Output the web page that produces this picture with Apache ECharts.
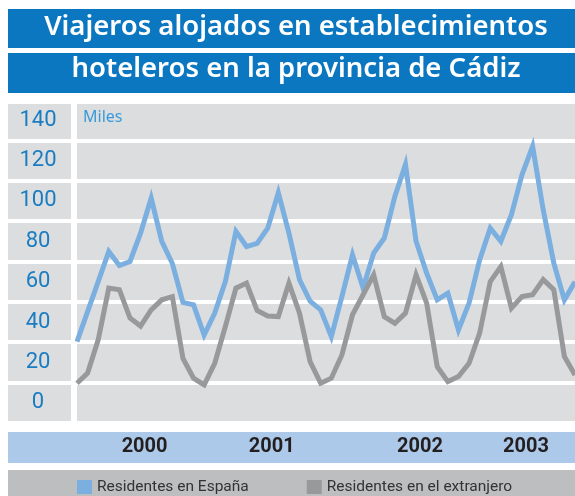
<!DOCTYPE html>
<html>
<head>
<meta charset="utf-8">
<script src="https://cdn.jsdelivr.net/npm/echarts@6/dist/echarts.min.js"></script>
<style>
  html, body { margin: 0; padding: 0; background: #fff; }
  #chart { width: 575px; height: 496px; }
</style>
</head>
<body>
<div id="chart"></div>
<script>
// datos mensuales, miles de viajeros (ene 2000 - dic 2003)
var years = ['2000', '2001', '2002', '2003'];
var monthNames = ['ene', 'feb', 'mar', 'abr', 'may', 'jun', 'jul', 'ago', 'sep', 'oct', 'nov', 'dic'];
var yearLabelMonths = ['jul 2000', 'jul 2001', 'sep 2002', 'jul 2003'];
var yTickLabels = [0, 20, 40, 60, 80, 100, 120, 140];

var espana = [
  30.3, 45.2, 60, 75, 68, 70, 84, 101.4, 80, 69, 49.7, 48.5,
  33.6, 44.4, 60, 84.9, 77.4, 79, 86.5, 104, 84, 61, 50.3, 46,
  32.8, 52.6, 73.3, 56.8, 74.2, 81.6, 102.2, 118, 80, 64.2, 51, 54.3,
  36.1, 49.4, 70.8, 86.5, 80, 93.2, 113, 127, 95.6, 69.2, 51, 60
];
var extranjero = [
  9.7, 14.7, 31.2, 56.8, 56, 42, 38, 46, 51, 52.6, 22, 12.2,
  8.9, 19.6, 37.8, 56.8, 59.3, 45.7, 43, 42.7, 59.3, 44.4, 20.4, 9.7,
  12.2, 23.7, 43.6, 53.5, 63.4, 42.7, 39.4, 44.4, 63.4, 49.4, 17.9, 10.5,
  13, 19.6, 34.5, 60, 67.5, 46.9, 52.6, 53.5, 61, 56, 22.9, 13.8
];

var months = [];
years.forEach(function (y) {
  monthNames.forEach(function (m) { months.push(m + ' ' + y); });
});

var narrow = "Roboto, 'Liberation Sans', sans-serif";
var bgGray = '#dcdddf';

var myChart = echarts.init(document.getElementById('chart'));
var option = {
  animation: false,
  title: [
    {
      text: 'Viajeros alojados en establecimientos',
      left: 296, top: 13, padding: 0, textAlign: 'center',
      textStyle: { color: '#fff', fontSize: 27.5, fontWeight: 600, fontFamily: "'Noto Sans', sans-serif" }
    },
    {
      text: 'hoteleros en la provincia de Cádiz',
      left: 296, top: 55, padding: 0, textAlign: 'center',
      textStyle: { color: '#fff', fontSize: 27.5, fontWeight: 600, fontFamily: "'Noto Sans', sans-serif" }
    }
  ],
  graphic: [
    { type: 'rect', z: -10, shape: { x: 8, y: 9, width: 570, height: 39 }, style: { fill: '#0a77c0' } },
    { type: 'rect', z: -10, shape: { x: 8, y: 53, width: 570, height: 40 }, style: { fill: '#0a77c0' } },
    { type: 'rect', z: -10, shape: { x: 8, y: 432, width: 570, height: 31 }, style: { fill: '#adc9e9' } },
    { type: 'rect', z: -10, shape: { x: 8, y: 470, width: 570, height: 30 }, style: { fill: '#bdbec0' } },
    {
      type: 'text', z: 10,
      style: { text: 'Miles', x: 83, y: 117, verticalAlign: 'middle', fill: '#3a9ad9',
               font: "16px 'Noto Sans', sans-serif" }
    }
  ],
  legend: {
    left: 77, top: 479, padding: 0,
    itemWidth: 15, itemHeight: 14, itemGap: 58,
    icon: 'rect',
    data: ['Residentes en España', 'Residentes en el extranjero'],
    textStyle: { fontSize: 15.5, color: '#333', fontFamily: narrow }
  },
  grid: [
    { left: 8, top: 104, width: 63, height: 319, show: true, backgroundColor: bgGray, borderWidth: 0 },
    { left: 77, top: 104, width: 503, height: 319, show: true, backgroundColor: bgGray, borderWidth: 0 }
  ],
  xAxis: [
    {
      type: 'category', gridIndex: 1, data: months, boundaryGap: false,
      axisLine: { show: false }, axisTick: { show: false }, splitLine: { show: false },
      axisLabel: {
        interval: function (index, value) { return yearLabelMonths.indexOf(value) >= 0; },
        formatter: function (value) { return value.split(' ')[1]; },
        margin: 14, padding: [0, 0, 0, 8],
        color: '#231f20', fontSize: 20, fontWeight: 'bold', fontFamily: narrow
      }
    },
    { type: 'category', gridIndex: 0, data: [''], show: false }
  ],
  yAxis: [
    {
      type: 'value', gridIndex: 1, position: 'left', min: -10, max: 148, interval: 10,
      axisLine: { show: false }, axisTick: { show: false }, splitLine: { show: false },
      axisLabel: {
        margin: 39, align: 'center',
        formatter: function (v) { return yTickLabels.indexOf(v) >= 0 ? String(v) : ''; },
        color: '#1a7cc1', fontSize: 22, fontWeight: 400, fontFamily: narrow
      }
    },
    {
      type: 'value', gridIndex: 1, position: 'left', min: -10, max: 148, interval: 20,
      axisLine: { show: false }, axisTick: { show: false }, axisLabel: { show: false },
      splitLine: { show: true, showMinLine: true, showMaxLine: false, lineStyle: { color: '#fff', width: 4 } }
    },
    {
      type: 'value', gridIndex: 0, position: 'left', min: -10, max: 148, interval: 20,
      axisLine: { show: false }, axisTick: { show: false }, axisLabel: { show: false },
      splitLine: { show: true, showMinLine: true, showMaxLine: false, lineStyle: { color: '#fff', width: 4 } }
    }
  ],
  series: [
    {
      name: 'Residentes en España', type: 'line', xAxisIndex: 0, yAxisIndex: 1,
      data: espana, symbol: 'none', color: '#7aafe0',
      lineStyle: { width: 5, color: '#7aafe0', join: 'miter' }
    },
    {
      name: 'Residentes en el extranjero', type: 'line', xAxisIndex: 0, yAxisIndex: 1,
      data: extranjero, symbol: 'none', color: '#98999b',
      lineStyle: { width: 5, color: '#98999b', join: 'miter' }
    }
  ]
};

myChart.setOption(option);

window.addEventListener('resize', function () {
  myChart.resize();
});
</script>
</body>
</html>
